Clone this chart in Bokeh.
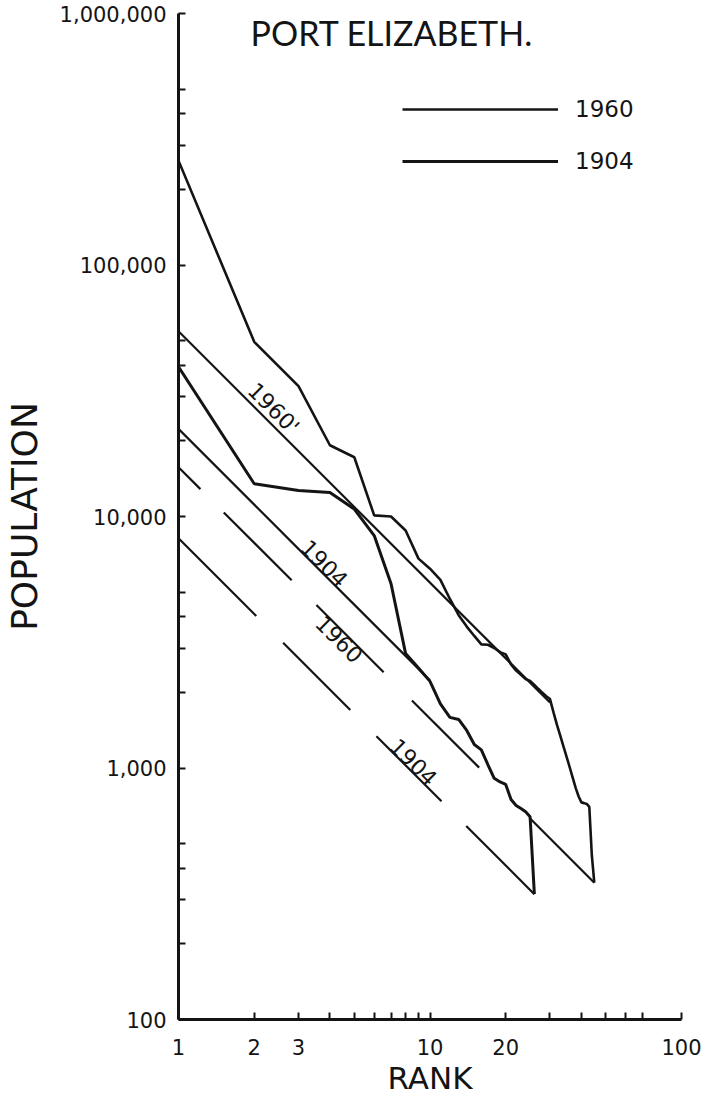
import numpy as np
from bokeh.plotting import figure
from bokeh.models import FixedTicker, NumeralTickFormatter, Label, Legend, LegendItem
from bokeh.embed import file_html
from bokeh.resources import INLINE

# ---------------- data ----------------
rank_1960 = list(range(1, 46))
pop_1960 = [260000, 49500, 33000, 19200, 17200, 10100, 10000, 8800, 6800, 6200,
            5600, 4700, 4050, 3650, 3350, 3100, 3090, 3000, 2890, 2830,
            2580, 2440, 2350, 2260, 2220, 2140, 2060, 1990, 1930, 1880,
            1660, 1480, 1340, 1210, 1100, 1000, 910, 830, 770, 730,
            725, 720, 700, 450, 350]

rank_1904 = list(range(1, 27))
pop_1904 = [39400, 13500, 12700, 12450, 10700, 8400, 5400, 2850, 2500, 2210,
            1800, 1590, 1560, 1410, 1240, 1180, 1030, 910, 880, 860,
            750, 710, 690, 670, 640, 315]

# straight lines (end points)
fit_1960_rank = [1, 30]
fit_1960_pop = [54500, 1820]
fit_1904_rank = [1, 10]
fit_1904_pop = [22300, 2230]
rs_1960_rank = [1, 45]
rs_1960_pop = [15700, 350]
rs_1904_rank = [1, 26]
rs_1904_pop = [8200, 315]

x_major = [1, 2, 3, 10, 20, 100]
x_minor = [4, 5, 6, 7, 8, 9, 30, 40, 50, 60, 70]
y_major = [100, 1000, 10000, 100000, 1000000]
y_minor = [200, 300, 400, 500, 2000, 3000, 4000, 5000, 20000, 30000, 40000, 50000,
           200000, 300000, 400000, 500000]

INK = "#141414"

p = figure(width=705, height=1098, x_axis_type="log", y_axis_type="log",
           x_range=(1, 100), y_range=(100, 1000000),
           output_backend="svg", toolbar_location=None,
           min_border_left=177, min_border_right=24,
           min_border_top=13, min_border_bottom=79)
p.grid.visible = False
p.outline_line_color = None
p.background_fill_color = "white"

# curves
r60 = p.line(rank_1960, pop_1960, line_color=INK, line_width=2.6)
r04 = p.line(rank_1904, pop_1904, line_color=INK, line_width=3.0)

# straight lines
p.line(fit_1960_rank, fit_1960_pop, line_color=INK, line_width=2.2)
p.line(fit_1904_rank, fit_1904_pop, line_color=INK, line_width=2.2)
p.line(rs_1960_rank, rs_1960_pop, line_color=INK, line_width=2.2,
       line_dash="31 33 96 35 95 40 95 71 95 10")
p.line(rs_1904_rank, rs_1904_pop, line_color=INK, line_width=2.2,
       line_dash="110 38 95 37 92 35 100 10")


def along(ranks, pops, r):
    return float(10 ** np.interp(np.log10(r), np.log10(ranks), np.log10(pops)))


def line_label(text, ranks, pops, r, baseline):
    p.add_layout(Label(x=r, y=along(ranks, pops, r), text=text, angle=-np.pi / 4,
                       text_align="center", text_baseline=baseline,
                       text_font="DejaVu Sans", text_font_size="22px",
                       text_color=INK))


line_label("1960'", fit_1960_rank, fit_1960_pop, 2.2, "bottom")
line_label("1904", fit_1904_rank, fit_1904_pop, 3.61, "bottom")
line_label("1960", rs_1960_rank, rs_1960_pop, 4.59, "top")
line_label("1904", rs_1904_rank, rs_1904_pop, 8.17, "bottom")

# title inside the plot
p.add_layout(Label(x=72, y=987, x_units="screen", y_units="screen",
                   text="PORT ELIZABETH.", text_font="Lato", text_font_size="34px",
                   text_baseline="alphabetic", text_color=INK))

# legend
legend = Legend(items=[LegendItem(label="1960", renderers=[r60]),
                       LegendItem(label="1904", renderers=[r04])],
                location=(224, 843), orientation="vertical",
                glyph_width=156, glyph_height=30, spacing=22,
                label_standoff=17, label_text_font="DejaVu Sans",
                label_text_font_size="23px", label_text_color=INK,
                padding=0, margin=0, border_line_alpha=0,
                background_fill_alpha=0)
p.add_layout(legend)

# axes
p.xaxis.ticker = FixedTicker(ticks=x_major, minor_ticks=x_minor)
p.yaxis.ticker = FixedTicker(ticks=y_major, minor_ticks=y_minor)
p.xaxis.formatter = NumeralTickFormatter(format="0,0")
p.yaxis.formatter = NumeralTickFormatter(format="0,0")

for ax in (p.xaxis, p.yaxis):
    ax.axis_line_color = INK
    ax.axis_line_width = 3
    ax.major_tick_in = 7
    ax.major_tick_out = 0
    ax.minor_tick_in = 7
    ax.minor_tick_out = 0
    ax.major_tick_line_color = INK
    ax.minor_tick_line_color = INK
    ax.major_tick_line_width = 2
    ax.minor_tick_line_width = 2
    ax.major_label_text_font = "DejaVu Sans"
    ax.major_label_text_font_size = "21px"
    ax.major_label_text_color = INK
    ax.axis_label_text_font = "DejaVu Sans"
    ax.axis_label_text_font_style = "normal"
    ax.axis_label_text_color = INK

p.xaxis.axis_label = "RANK"
p.xaxis.axis_label_text_font_size = "31px"
p.xaxis.major_label_standoff = 19
p.xaxis.axis_label_standoff = 2

p.yaxis.axis_label = "POPULATION"
p.yaxis.axis_label_text_font_size = "36px"
p.yaxis.major_label_standoff = 12
p.yaxis.axis_label_standoff = 12

open("out.html", "w").write(file_html(p, INLINE))
